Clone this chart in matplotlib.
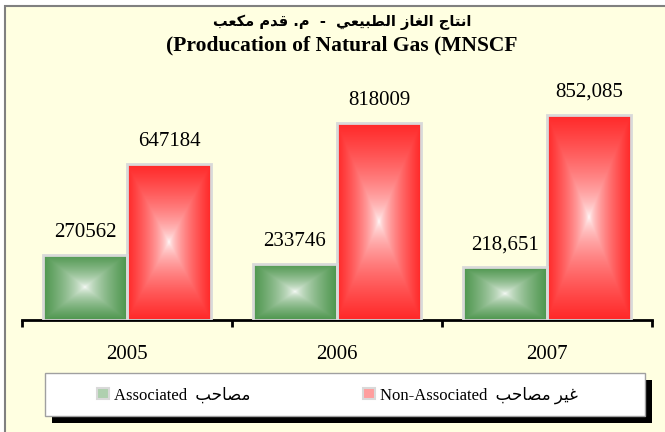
import numpy as np
import matplotlib
matplotlib.use("Agg")
import matplotlib.pyplot as plt
from matplotlib.patches import Rectangle, Patch
from matplotlib.font_manager import FontProperties

years = ["2005", "2006", "2007"]
associated = [270562, 233746, 218651]
non_associated = [647184, 818009, 852085]
assoc_labels = ["270562", "233746", "218,651"]
nonassoc_labels = ["647184", "818009", "852,085"]

title_ar = "انتاج الغاز الطبيعي  -  م. قدم مكعب"
title_en = "(Producation of Natural Gas (MNSCF"
legend_ar = ["مصاحب", "غير مصاحب"]
legend_en = ["Associated", "Non-Associated"]

BG = "#FFFFE1"
GREEN = np.array([78, 150, 78]) / 255
RED = np.array([255, 40, 40]) / 255
SERIF = ["Liberation Serif", "DejaVu Sans"]

# isolated, final, initial, medial (right-joining letters only have two)
AR_FORMS = {
    "ا": "\uFE8D\uFE8E", "ب": "\uFE8F\uFE90\uFE91\uFE92", "ت": "\uFE95\uFE96\uFE97\uFE98",
    "ج": "\uFE9D\uFE9E\uFE9F\uFEA0", "ح": "\uFEA1\uFEA2\uFEA3\uFEA4", "د": "\uFEA9\uFEAA",
    "ر": "\uFEAD\uFEAE", "ز": "\uFEAF\uFEB0", "ص": "\uFEB9\uFEBA\uFEBB\uFEBC",
    "ط": "\uFEC1\uFEC2\uFEC3\uFEC4", "ع": "\uFEC9\uFECA\uFECB\uFECC", "غ": "\uFECD\uFECE\uFECF\uFED0",
    "ق": "\uFED5\uFED6\uFED7\uFED8", "ك": "\uFED9\uFEDA\uFEDB\uFEDC", "ل": "\uFEDD\uFEDE\uFEDF\uFEE0",
    "م": "\uFEE1\uFEE2\uFEE3\uFEE4", "ن": "\uFEE5\uFEE6\uFEE7\uFEE8", "ي": "\uFEF1\uFEF2\uFEF3\uFEF4",
}


def shape_ar(s):
    """Pick contextual glyph forms and reverse, since matplotlib has no bidi."""
    out = []
    for i, c in enumerate(s):
        f = AR_FORMS.get(c)
        if f is None:
            out.append(c)
            continue
        prev = s[i - 1] if i > 0 else ""
        nxt = s[i + 1] if i + 1 < len(s) else ""
        jp = prev in AR_FORMS and len(AR_FORMS[prev]) == 4
        jn = nxt in AR_FORMS and len(f) == 4
        out.append(f[3] if jp and jn else f[1] if jp else f[2] if jn else f[0])
    return "".join(reversed(out))


def gradient_fill(ax, bar, color):
    x, y = bar.get_x(), bar.get_y()
    w, h = bar.get_width(), bar.get_height()
    u = np.linspace(-1, 1, 200)
    t = np.maximum(np.abs(u)[None, :], np.abs(u)[:, None]) ** 0.6
    img = 1 - t[..., None] * (1 - color)
    im = ax.imshow(img, extent=(x, x + w, y, y + h), aspect="auto",
                   interpolation="bilinear", zorder=2)
    im.set_clip_path(bar)


fig = plt.figure(figsize=(6.65, 4.32), dpi=100)
fig.patch.set_facecolor("white")
fig.patches.append(Rectangle((5 / 665, -0.1), 1.1, 1 - 6 / 432 + 0.1, transform=fig.transFigure,
                             facecolor=BG, edgecolor="#808080", lw=1.5, zorder=-5))

ax = fig.add_axes([22 / 665, 112 / 432, 630 / 665, 290 / 432])
ax.set_facecolor("none")
x = np.arange(len(years))
bw = 0.4
b1 = ax.bar(x - bw / 2, associated, bw, facecolor="none", edgecolor="#D9D9D9", lw=2, zorder=3)
b2 = ax.bar(x + bw / 2, non_associated, bw, facecolor="none", edgecolor="#D9D9D9", lw=2, zorder=3)
for bars, col, labels in [(b1, GREEN, assoc_labels), (b2, RED, nonassoc_labels)]:
    for bar, lab in zip(bars, labels):
        gradient_fill(ax, bar, col)
        ax.annotate(lab, (bar.get_x() + bar.get_width() / 2, bar.get_height()),
                    xytext=(0, 13), textcoords="offset points", ha="center", va="baseline",
                    fontsize=15, family=SERIF)

ax.set_xlim(-0.5, 2.5)
ax.set_ylim(0, 1.205e6)
for s in ["left", "right", "top"]:
    ax.spines[s].set_visible(False)
ax.spines["bottom"].set_linewidth(2)
ax.set_yticks([])
ax.set_xticks([-0.5, 0.5, 1.5, 2.5])
ax.set_xticklabels([])
ax.tick_params(axis="x", which="major", length=5, width=2, direction="out")
ax.set_xticks(x, minor=True)
ax.set_xticklabels(years, minor=True, fontsize=15, family=SERIF)
ax.tick_params(axis="x", which="minor", length=0, pad=18)

fig.text(342 / 665, 1 - 22 / 432, shape_ar(title_ar), ha="center", va="center",
         fontsize=10.5, fontweight="bold", family=["DejaVu Sans"])
fig.text(342 / 665, 1 - 45 / 432, title_en, ha="center", va="center",
         fontsize=15.5, fontweight="bold", family=SERIF)

# legend box with hard black shadow
fig.patches.append(Rectangle((52 / 665, 1 - 423 / 432), 600 / 665, 43 / 432,
                             transform=fig.transFigure, facecolor="black", lw=0, zorder=1))
fig.patches.append(Rectangle((45 / 665, 1 - 416 / 432), 600 / 665, 43 / 432,
                             transform=fig.transFigure, facecolor="white",
                             edgecolor="#A0A0A0", lw=1, zorder=1))
handles = [Patch(facecolor=1 - 0.45 * (1 - c), edgecolor="#D9D9D9", lw=1.5) for c in (GREEN, RED)]
labels = [f"{en}  {shape_ar(ar)}" for en, ar in zip(legend_en, legend_ar)]
leg = fig.legend(handles, labels, loc="center left", bbox_to_anchor=(97 / 665, 1 - 395 / 432),
                 ncol=2, frameon=False, borderpad=0, borderaxespad=0, handlelength=0.7,
                 handleheight=0.7, handletextpad=0.3, columnspacing=6.8,
                 prop=FontProperties(family=SERIF, size=12))
leg.set_zorder(2)

fig.savefig("out.png", dpi=100, facecolor=fig.get_facecolor())
